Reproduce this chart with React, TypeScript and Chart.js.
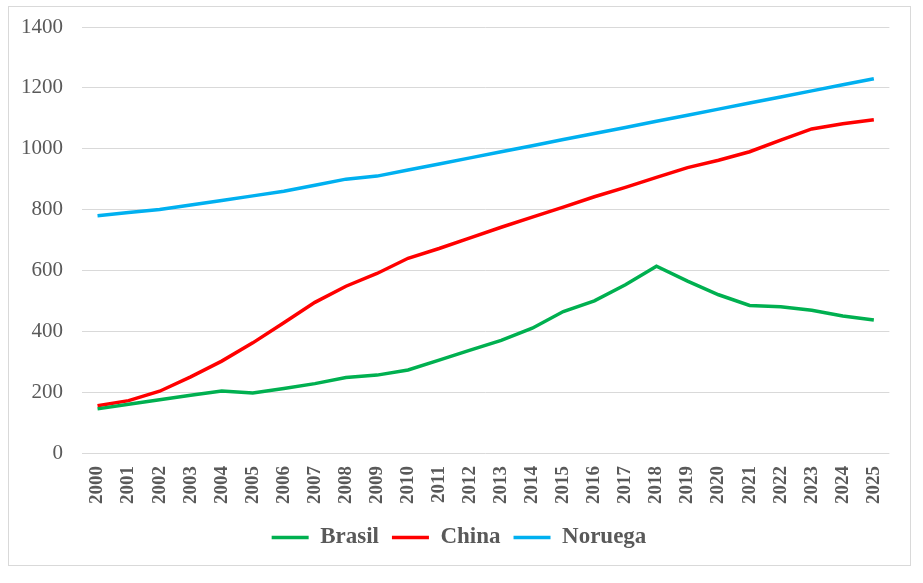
import React, { useEffect, useRef } from "react";
import { Chart, registerables } from "chart.js";

Chart.register(...registerables);

const years = ["2000","2001","2002","2003","2004","2005","2006","2007","2008","2009","2010","2011","2012","2013","2014","2015","2016","2017","2018","2019","2020","2021","2022","2023","2024","2025"];
const brasil = [145,160,175,190,204,197,212,228,248,256,273,305,338,370,410,465,500,553,614,565,520,485,481,469,450,437];
const china = [155,172,203,250,302,362,428,495,548,590,640,672,707,742,775,808,842,873,906,938,962,990,1028,1065,1082,1095];
const noruega = [780,790,800,815,830,845,860,880,900,910,930,950,970,990,1010,1030,1050,1070,1090,1110,1130,1150,1170,1190,1210,1230];
const yTicks = [0,200,400,600,800,1000,1200,1400];

const serif = "'Liberation Serif', 'Times New Roman', serif";
const gray = "#595959";

const shiftLegend = {
  id: "shiftLegend",
  afterLayout(chart: any) {
    const lg = chart.legend;
    if (lg) {
      lg.left += 9;
      lg.right += 9;
    }
  },
};

export default function App() {
  const ref = useRef<HTMLCanvasElement | null>(null);
  useEffect(() => {
    if (!ref.current) return;
    const mk = (label: string, data: number[], color: string) => ({
      label,
      data,
      borderColor: color,
      backgroundColor: color,
      borderWidth: 3.5,
      pointRadius: 0,
      tension: 0,
      fill: false,
    });
    const chart = new Chart(ref.current, {
      type: "line",
      data: {
        labels: years,
        datasets: [
          mk("Brasil", brasil, "#00B050"),
          mk("China", china, "#FF0000"),
          mk("Noruega", noruega, "#00B0F0"),
        ],
      },
      plugins: [shiftLegend],
      options: {
        animation: false,
        responsive: false,
        maintainAspectRatio: false,
        layout: { padding: { top: 20, right: 19, bottom: 6, left: 0 } },
        plugins: {
          tooltip: { enabled: false },
          legend: {
            position: "bottom",
            labels: {
              usePointStyle: true,
              pointStyle: "line",
              pointStyleWidth: 37,
              padding: 13,
              color: gray,
              font: { family: serif, size: 23, weight: "bold" },
            },
          },
        },
        scales: {
          x: {
            offset: true,
            grid: { display: false, drawTicks: false },
            border: { display: false },
            ticks: {
              minRotation: 90,
              maxRotation: 90,
              padding: 13,
              color: gray,
              autoSkip: false,
              font: { family: serif, size: 19, weight: "bold" },
            },
            afterFit: (s: any) => { s.height = 60; },
          },
          y: {
            min: 0,
            max: 1400,
            afterBuildTicks: (s: any) => { s.ticks = yTicks.map((v) => ({ value: v })); },
            grid: { color: "#d9d9d9", lineWidth: 1, drawTicks: true, tickLength: 19, tickColor: "rgba(0,0,0,0)" },
            border: { display: false },
            ticks: {
              padding: 0,
              color: gray,
              font: { family: serif, size: 21 },
              callback: (v: any) => String(v),
            },
            afterFit: (s: any) => { s.width = 73; },
          },
        },
      },
    });
    return () => chart.destroy();
  }, []);
  return (
    <div
      style={{
        position: "absolute",
        left: 8,
        top: 6,
        width: 903,
        height: 560,
        border: "1px solid #d9d9d9",
        boxSizing: "border-box",
        background: "#fff",
      }}
    >
      <canvas ref={ref} width={901} height={558} style={{ display: "block", width: 901, height: 558 }} />
    </div>
  );
}
